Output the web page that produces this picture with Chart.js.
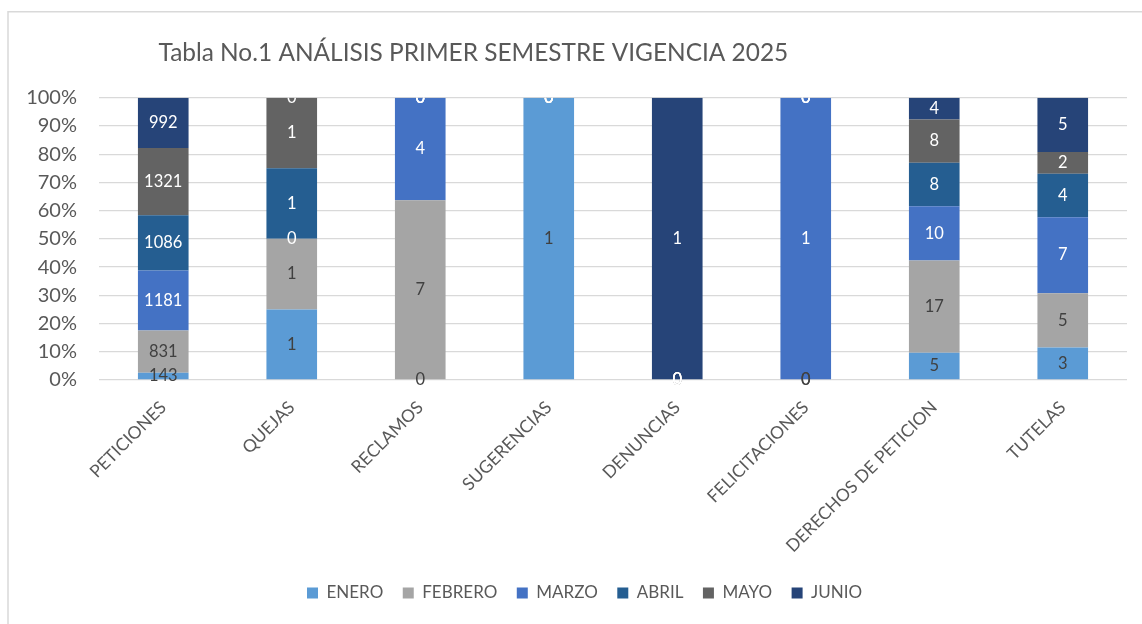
<!DOCTYPE html>
<html><head><meta charset="utf-8">
<script src="https://cdn.jsdelivr.net/npm/chart.js@4.4.1/dist/chart.umd.min.js"></script>
<style>html,body{margin:0;padding:0;background:#fff;}canvas{display:block;}</style>
</head><body>
<canvas id="c" width="1142" height="624"></canvas>
<script>
const categories = ['PETICIONES','QUEJAS','RECLAMOS','SUGERENCIAS','DENUNCIAS','FELICITACIONES','DERECHOS DE PETICION','TUTELAS'];
const seriesNames = ['ENERO','FEBRERO','MARZO','ABRIL','MAYO','JUNIO'];
const enero   = [143, 1, 0, 1, 0, 0, 5, 3];
const febrero = [831, 1, 7, 0, 0, 0, 17, 5];
const marzo   = [1181, 0, 4, 0, 0, 1, 10, 7];
const abril   = [1086, 1, 0, 0, 0, 0, 8, 4];
const mayo    = [1321, 1, 0, 0, 0, 0, 8, 2];
const junio   = [992, 0, 0, 0, 1, 0, 4, 5];
const yTickValues = [0,10,20,30,40,50,60,70,80,90,100];
const titleText = 'Tabla No.1 ANÁLISIS PRIMER SEMESTRE VIGENCIA 2025';

const rawSeries = [enero, febrero, marzo, abril, mayo, junio];
const colors = ['#5B9BD5','#A5A5A5','#4472C4','#255E91','#636363','#264478'];
const labelColors = ['#404040','#404040','#FFFFFF','#FFFFFF','#FFFFFF','#FFFFFF'];
const totals = categories.map((_, j) => rawSeries.reduce((s, arr) => s + arr[j], 0));
const pctSeries = rawSeries.map(arr => arr.map((v, j) => totals[j] ? v / totals[j] * 100 : 0));

const TXT = '#595959';
const FONT = 'Lato';

// title size fit
const mctx = document.createElement('canvas').getContext('2d');
mctx.font = '22px ' + FONT;
let titleSize = 22 * 630 / mctx.measureText(titleText).width;
titleSize = Math.max(18, Math.min(26, titleSize));
const titleLH = titleSize * 1.2;
const titlePadTop = 53.5 - titleLH / 2;
const titlePadBottom = 97.7 - titlePadTop - titleLH;

const LEG_PAD = 19.5, LEG_FONT = 17;

const framePlugin = {
  id: 'frame',
  beforeDraw(chart) {
    const ctx = chart.ctx;
    ctx.save();
    ctx.fillStyle = '#fff';
    ctx.fillRect(0, 0, chart.width, chart.height);
    ctx.strokeStyle = '#d9d9d9';
    ctx.lineWidth = 1.5;
    ctx.beginPath();
    ctx.moveTo(8, chart.height);
    ctx.lineTo(8, 11.75);
    ctx.lineTo(chart.width, 11.75);
    ctx.stroke();
    ctx.restore();
  }
};

const placePlugin = {
  id: 'place',
  afterLayout(chart) {
    const t = chart.titleBlock;
    if (t) { const dx = 158.5 - t.left; t.left += dx; t.right += dx; }
    const l = chart.legend;
    if (l) {
      const itemH = LEG_FONT;
      const dx = (307 - LEG_PAD) - l.left;
      const dy = (593 - LEG_PAD - itemH / 2) - l.top;
      l.left += dx; l.right += dx; l.top += dy; l.bottom += dy;
    }
  }
};

const labelPlugin = {
  id: 'segLabels',
  afterDatasetsDraw(chart) {
    const ctx = chart.ctx, a = chart.chartArea;
    ctx.save();
    ctx.beginPath();
    ctx.rect(0, a.top, chart.width, chart.height - a.top);
    ctx.clip();
    ctx.font = '16.5px ' + FONT;
    ctx.textAlign = 'center';
    ctx.textBaseline = 'middle';
    chart.data.datasets.forEach((ds, i) => {
      const meta = chart.getDatasetMeta(i);
      meta.data.forEach((el, j) => {
        const cy = (el.y + el.base) / 2;
        ctx.fillStyle = labelColors[i];
        ctx.fillText(String(rawSeries[i][j]), el.x, cy);
      });
    });
    ctx.restore();
  }
};

new Chart(document.getElementById('c'), {
  type: 'bar',
  data: {
    labels: categories,
    datasets: seriesNames.map((name, i) => ({
      label: name,
      data: pctSeries[i],
      backgroundColor: colors[i],
      borderWidth: 0,
      categoryPercentage: 1,
      barPercentage: 0.394
    }))
  },
  options: {
    responsive: false,
    animation: false,
    devicePixelRatio: 1,
    layout: { padding: { left: 0, right: 15, top: 0, bottom: 0 } },
    plugins: {
      title: {
        display: true, text: titleText, align: 'start', color: TXT,
        font: { family: FONT, size: titleSize, weight: 'normal', lineHeight: 1.2 },
        padding: { top: titlePadTop, bottom: titlePadBottom }
      },
      legend: {
        position: 'bottom', align: 'start',
        labels: { boxWidth: 11, boxHeight: 11, padding: LEG_PAD, color: TXT, font: { family: FONT, size: LEG_FONT } }
      },
      tooltip: { enabled: false }
    },
    scales: {
      x: {
        stacked: true,
        grid: { display: false, drawTicks: false },
        border: { display: false },
        ticks: { color: TXT, font: { family: FONT, size: 17.5 }, minRotation: 45, maxRotation: 45, autoSkip: false, padding: 17 },
        afterFit(s) { const lh = s.chart.legend ? s.chart.legend.height : 0; s.height = 624 - 380 - lh; }
      },
      y: {
        stacked: true, min: 0, max: 100,
        afterBuildTicks(s) { s.ticks = yTickValues.map(v => ({ value: v })); },
        ticks: { color: TXT, font: { family: FONT, size: 20 }, padding: 22, callback: v => v + '%' },
        grid: { color: '#d9d9d9', lineWidth: 1.3, drawTicks: false },
        border: { display: false },
        afterFit(s) { s.width = 99; }
      }
    }
  },
  plugins: [framePlugin, placePlugin, labelPlugin]
});
</script>
</body></html>
